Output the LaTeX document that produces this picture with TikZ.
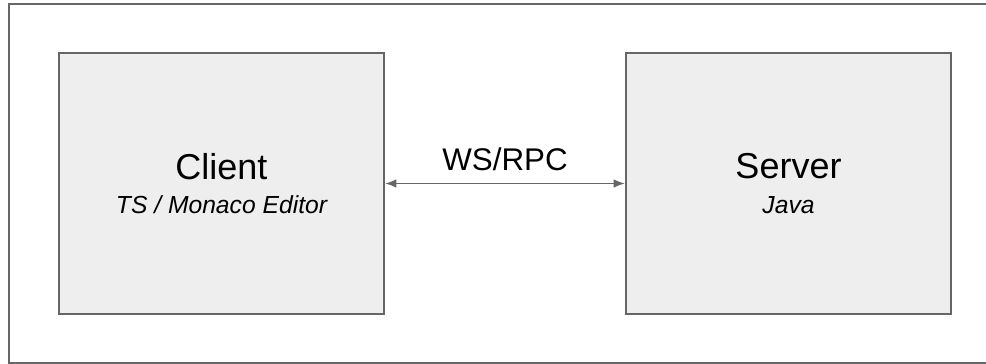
\documentclass[tikz,border=0pt]{standalone}
\usepackage{fontspec}
\setmainfont{Liberation Sans}
\usepackage{xcolor}
\usetikzlibrary{positioning,arrows.meta}

\definecolor{boxline}{HTML}{666666}
\definecolor{boxfill}{HTML}{EEEEEE}

\begin{document}
\begin{tikzpicture}[x=0.75pt,y=-0.75pt,
    box/.style={draw=boxline, fill=boxfill, line width=1.5pt,
        minimum width=243.75pt, minimum height=195.75pt,
        align=center, font=\fontsize{27}{26}\selectfont},
    link/.style={draw=boxline, line width=1.4pt,
        {Latex[length=8.5pt,width=6.5pt]}-{Latex[length=8.5pt,width=6.5pt]}}]
    \useasboundingbox (0,0) rectangle (986,364);

    % outer frame
    \draw[boxline, line width=1.5pt] (9,3.5) rectangle (988,362.5);

    \node[box] (client) at (221.5,183.5) {Client\\{\fontsize{18.5}{20}\selectfont\itshape TS / Monaco Editor}};
    \node[box, right=180pt of client] (server) {Server\\{\fontsize{18.5}{20}\selectfont\itshape Java}};

    \draw[link] (client.east) -- (server.west)
        node[midway, above=8.5pt, inner sep=0pt, font=\fontsize{23.5}{25}\selectfont] (wsrpc) {WS/RPC};
\end{tikzpicture}
\end{document}
